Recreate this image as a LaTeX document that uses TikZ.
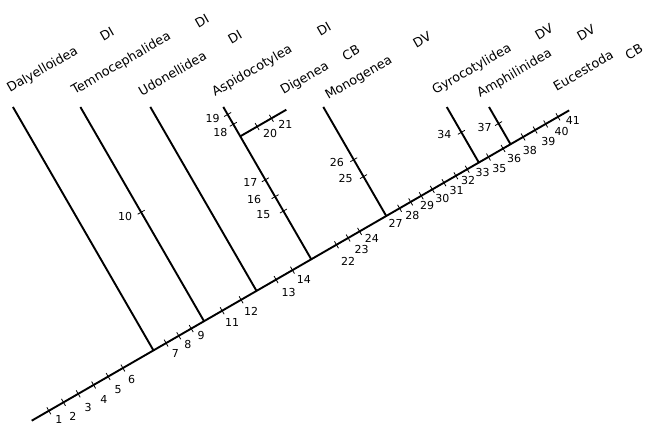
\documentclass[tikz,border=0pt]{standalone}
\usepackage{fontspec}
\setmainfont{DejaVu Sans}

\tikzset{
  clade/.style={line width=1.9pt},
  tickmark/.style={line width=0.8pt},
  num/.style={font=\fontsize{11}{12}\selectfont, inner sep=0pt},
  taxon/.style={font=\fontsize{12.8}{14}\selectfont, rotate=30, anchor=base west, inner sep=0pt},
  grp/.style={taxon, anchor=center}
}

\begin{document}
\begin{tikzpicture}[x=1pt, y=1pt]
  \useasboundingbox (0,0) rectangle (648,425);
  % tree frame: stem along x, side branches along y
  \begin{scope}[shift={(31.7,4.3)}, rotate=30]
    \coordinate (root) at (0,0);
    \coordinate (tEuc) at (620.6,0);
    \foreach \name/\s/\t in {Dal/140.6/281.1, Tem/199/247.3, Udo/259.6/212.4, Asp/322.8/175.9,
                             Mon/409.4/125.9, Gyr/516.3/64.1, Amp/552.9/43}{
      \coordinate (b\name) at (\s,0);
      \coordinate (t\name) at (\s,\t);
    }
    \coordinate (bDig) at (322.8,142);
    \coordinate (tDig) at (376,142);
    \foreach \s/\n in {19.8/1, 36.7/2, 53.7/3, 71.5/4, 88.3/5, 105.3/6, 155.2/7, 169.8/8, 184.2/9,
                       219.9/11, 241.8/12, 282.2/13, 301.1/14, 351.9/22, 365.4/23, 378.6/24,
                       424.8/27, 437.6/28, 449.8/29, 462.6/30, 476/31, 489.8/32, 502.9/33,
                       527.4/35, 544.3/36, 567.4/38, 581.3/39, 593.5/40, 607.7/41}{
      \coordinate (m\n) at (\s,0);
      \draw[tickmark] (\s,-4) -- (\s,4);
    }
    \foreach \s/\t/\n in {199/125.8/10, 322.8/167.2/19, 322.8/155.9/18, 322.8/91.8/17,
                          322.8/72.3/16, 322.8/55.7/15, 409.4/65/26, 409.4/45.5/25,
                          516.3/34.9/34, 552.9/23.9/37}{
      \coordinate (m\n) at (\s,\t);
      \draw[tickmark] (\s-4,\t) -- (\s+4,\t);
    }
    \foreach \s/\n in {342.3/20, 358.8/21}{
      \coordinate (m\n) at (\s,142);
      \draw[tickmark] (\s,138) -- (\s,146);
    }
  \end{scope}

  \draw[clade] (root) -- (tEuc);
  \foreach \name in {Dal,Tem,Udo,Asp,Mon,Gyr,Amp}
    \draw[clade] (b\name) -- (t\name);
  \draw[clade] (bDig) -- (tDig);

  % character numbers
  \foreach \n/\dx/\dy in {1/10/8.5, 2/9.4/14, 3/10/13.7, 4/10.3/14.3, 5/10/13.3, 6/8.7/11.7,
                          7/9.3/10.4, 8/9/9, 9/10/6.7, 11/10/11.7, 12/10/12, 13/12.6/12.7,
                          14/11.3/9, 22/11.7/16.7, 23/13.4/11.7, 24/12.4/7.3, 27/-4/15,
                          28/1.7/13.3, 29/6/10, 30/10/9.3, 31/12.7/8.3, 32/12.3/4.7,
                          33/15.4/3.4, 35/11/11.6, 36/11/10, 38/6.7/13.4, 39/13.3/11.7,
                          40/16/7.7, 41/15/3.4, 10/-16/4, 19/-15/4, 18/-13/8, 17/-15/3,
                          16/-21/3, 15/-20/4, 26/-17/3, 25/-18/2, 34/-17/2, 37/-14/4,
                          20/13/7, 21/14/6}
    \node[num] (l\n) at ([shift={(\dx,-\dy)}]m\n) {\n};

  % taxa
  \foreach \name/\txt/\dx/\dy in {Dal/Dalyelloidea/-2.9/14, Tem/Temnocephalidea/-5.9/12,
                                  Udo/Udonellidea/-8.6/10.3, Asp/Aspidocotylea/-8.3/10.3,
                                  Dig/Digenea/-3/14.7, Mon/Monogenea/4.8/7,
                                  Gyr/Gyrocotylidea/-11.7/12, Amp/Amphilinidea/-9/9,
                                  Euc/Eucestoda/-12.6/19}
    \node[taxon] (n\name) at ([shift={(\dx,\dy)}]t\name) {\txt};

  \node[grp] (cDal) at (107,391) {DI};
  \node[grp] (cTem) at (202,404) {DI};
  \node[grp] (cUdo) at (235,388) {DI};
  \node[grp] (cAsp) at (324,396) {DI};
  \node[grp] (cDig) at (351,372) {CB};
  \node[grp] (cMon) at (422,385) {DV};
  \node[grp] (cGyr) at (544,393) {DV};
  \node[grp] (cAmp) at (586,392.5) {DV};
  \node[grp] (cEuc) at (634,373) {CB};
\end{tikzpicture}
\end{document}
